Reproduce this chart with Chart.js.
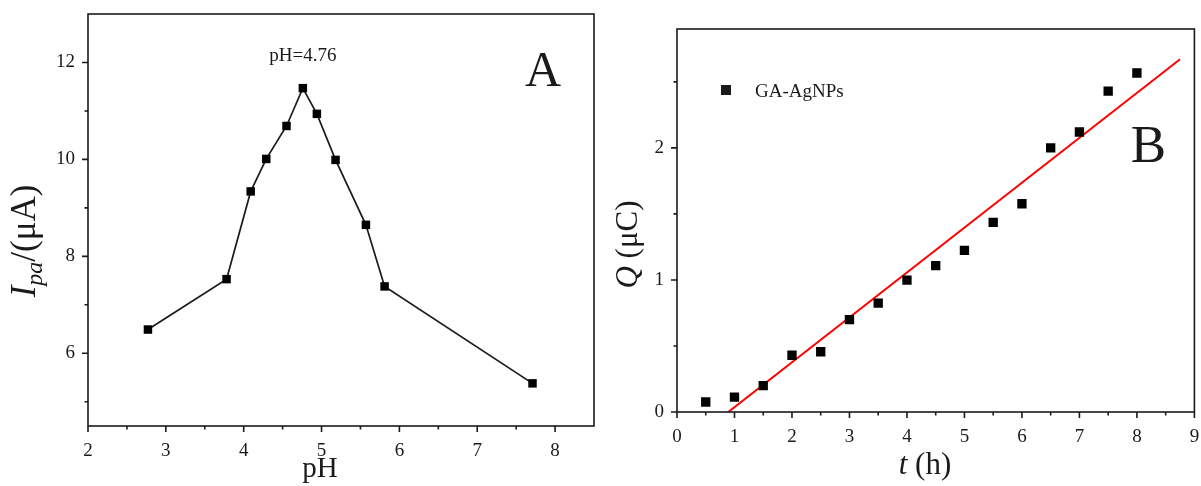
<!DOCTYPE html>
<html>
<head>
<meta charset="utf-8">
<title>Ipa vs pH / Q vs t</title>
<script src="https://cdn.jsdelivr.net/npm/chart.js@4.4.0/dist/chart.umd.min.js"></script>
<style>
  html, body { margin: 0; padding: 0; background: #fff; }
  #wrap { position: relative; width: 1201px; height: 486px; }
  #chartA { position: absolute; left: 0; top: 0; }
  #chartB { position: absolute; left: 600px; top: 0; }
</style>
</head>
<body>
<div id="wrap">
  <canvas id="chartA" width="600" height="486"></canvas>
  <canvas id="chartB" width="601" height="486"></canvas>
</div>
<script>
// Panel A: anodic peak current vs pH
const phValues  = [2.77, 3.78, 4.09, 4.29, 4.55, 4.76, 4.94, 5.18, 5.57, 5.81, 7.71];
const ipaValues = [6.49, 7.53, 9.34, 10.01, 10.69, 11.47, 10.94, 9.99, 8.65, 7.38, 5.38];
const phTicks   = [2, 3, 4, 5, 6, 7, 8];
const ipaTicks  = [6, 8, 10, 12];

// Panel B: accumulated charge vs time
const timeValues   = [0.5, 1, 1.5, 2, 2.5, 3, 3.5, 4, 4.5, 5, 5.5, 6, 6.5, 7, 7.5, 8];
const chargeValues = [0.076, 0.113, 0.20, 0.43, 0.456, 0.70, 0.824, 0.998, 1.108, 1.224, 1.436, 1.577, 2.00, 2.12, 2.43, 2.567];
const timeTicks    = [0, 1, 2, 3, 4, 5, 6, 7, 8, 9];
const chargeTicks  = [0, 1, 2];
const fitSpan      = [0, 8.75];

const SERIF = '"Liberation Serif", "DejaVu Serif", serif';
const INK = '#1a1a1a';

// least squares line through the charge data
function linearFit(xs, ys) {
    const n = xs.length;
    const mx = xs.reduce((s, v) => s + v, 0) / n;
    const my = ys.reduce((s, v) => s + v, 0) / n;
    let sxy = 0, sxx = 0;
    xs.forEach((x, i) => { sxy += (x - mx) * (ys[i] - my); sxx += (x - mx) * (x - mx); });
    const slope = sxy / sxx;
    return { slope, intercept: my - slope * mx };
}
const fit = linearFit(timeValues, chargeValues);
const fitPoints = fitSpan.map(t => ({ x: t, y: fit.slope * t + fit.intercept }));

// box around the plot area plus outward major/minor ticks on bottom and left
const frameTicks = {
    id: 'frameTicks',
    afterDraw(chart, args, opts) {
        const { ctx, chartArea: a, scales: { x, y } } = chart;
        ctx.save();
        ctx.strokeStyle = INK;
        ctx.lineWidth = 1.6;
        ctx.strokeRect(a.left, a.top, a.right - a.left, a.bottom - a.top);

        ctx.beginPath();
        const walk = (scale, majors, draw) => {
            const step = majors[1] - majors[0];
            for (let v = majors[0] - step / 2; v <= scale.max + 1e-9; v += step / 2) {
                if (v < scale.min - 1e-9) continue;
                const major = Math.abs((v - majors[0]) / step - Math.round((v - majors[0]) / step)) < 1e-6;
                const edge = Math.abs(v - scale.min) < 1e-9 || Math.abs(v - scale.max) < 1e-9;
                if (!major && edge) continue;
                draw(scale.getPixelForValue(v), major ? 6 : 3.5);
            }
        };
        walk(x, opts.xMajor, (px, len) => { ctx.moveTo(px, a.bottom); ctx.lineTo(px, a.bottom + len); });
        walk(y, opts.yMajor, (py, len) => { ctx.moveTo(a.left, py); ctx.lineTo(a.left - len, py); });
        ctx.stroke();
        ctx.restore();
    }
};

// texts that are not part of the scales: titles, panel letters, notes
const panelText = {
    id: 'panelText',
    afterDraw(chart, args, opts) {
        const ctx = chart.ctx;
        ctx.save();
        ctx.fillStyle = INK;
        opts.draw(chart, ctx);
        ctx.restore();
    }
};

function runs(ctx, parts, x, y) {
    // draws a row of [text, font, dy] pieces centred on x
    const widths = parts.map(p => { ctx.font = p[1]; return ctx.measureText(p[0]).width; });
    let cx = x - widths.reduce((s, w) => s + w, 0) / 2;
    ctx.textAlign = 'left';
    ctx.textBaseline = 'alphabetic';
    parts.forEach((p, i) => {
        ctx.font = p[1];
        ctx.fillText(p[0], cx, y + (p[2] || 0));
        cx += widths[i];
    });
}

function baseScales(xMin, xMax, xTicks, yMin, yMax, yTicks, yWidth, xHeight) {
    const tickFont = { family: SERIF, size: 19 };
    return {
        x: {
            type: 'linear', min: xMin, max: xMax,
            grid: { display: false, drawTicks: false },
            border: { display: false },
            afterBuildTicks: s => { s.ticks = xTicks.map(v => ({ value: v })); },
            afterFit: s => { s.height = xHeight; s.paddingLeft = 0; s.paddingRight = 0; },
            ticks: { font: tickFont, color: INK, padding: 14, maxRotation: 0, autoSkip: false }
        },
        y: {
            type: 'linear', min: yMin, max: yMax,
            grid: { display: false, drawTicks: false },
            border: { display: false },
            afterBuildTicks: s => { s.ticks = yTicks.map(v => ({ value: v })); },
            afterFit: s => { s.width = yWidth; s.paddingTop = 0; s.paddingBottom = 0; },
            ticks: { font: tickFont, color: INK, padding: 13, autoSkip: false }
        }
    };
}

const peakIndex = ipaValues.indexOf(Math.max(...ipaValues));

new Chart(document.getElementById('chartA'), {
    type: 'line',
    data: {
        datasets: [{
            data: phValues.map((v, i) => ({ x: v, y: ipaValues[i] })),
            borderColor: INK,
            borderWidth: 1.7,
            pointStyle: 'rect',
            pointRadius: 6,
            pointBackgroundColor: '#000',
            pointBorderWidth: 0,
            tension: 0
        }]
    },
    options: {
        responsive: false,
        animation: false,
        events: [],
        layout: { padding: { left: 0, right: 6, top: 14, bottom: 0 } },
        scales: baseScales(2, 8.5, phTicks, 4.5, 13, ipaTicks, 88, 60),
        plugins: {
            legend: { display: false },
            tooltip: { enabled: false },
            frameTicks: { xMajor: phTicks, yMajor: ipaTicks },
            panelText: {
                draw(chart, ctx) {
                    const { chartArea: a, scales: { x, y } } = chart;
                    const px = x.getPixelForValue(phValues[peakIndex]);
                    const py = y.getPixelForValue(ipaValues[peakIndex]);
                    runs(ctx, [['pH=' + phValues[peakIndex].toFixed(2), '19px ' + SERIF]], px, py - 27);
                    runs(ctx, [['A', '50px ' + SERIF]], a.right - 51, a.top + 72);
                    runs(ctx, [['pH', '29px ' + SERIF]], (a.left + a.right) / 2 - 21, 477);
                    ctx.translate(35, (a.top + a.bottom) / 2 + 21);
                    ctx.rotate(-Math.PI / 2);
                    runs(ctx, [
                        ['I', 'italic 35px ' + SERIF],
                        ['pa', 'italic 24px ' + SERIF, 7],
                        ['/(\u03bcA)', '35px ' + SERIF]
                    ], 0, 0);
                }
            }
        }
    },
    plugins: [frameTicks, panelText]
});

new Chart(document.getElementById('chartB'), {
    type: 'scatter',
    data: {
        datasets: [{
            label: 'GA-AgNPs',
            data: timeValues.map((v, i) => ({ x: v, y: chargeValues[i] })),
            pointStyle: 'rect',
            pointRadius: 6.6,
            pointBackgroundColor: '#000',
            pointBorderWidth: 0
        }, {
            type: 'line',
            data: fitPoints,
            borderColor: '#ff0000',
            borderWidth: 2,
            pointRadius: 0,
            order: 1
        }]
    },
    options: {
        responsive: false,
        animation: false,
        events: [],
        layout: { padding: { left: 0, right: 5, top: 29, bottom: 0 } },
        scales: baseScales(0, 9, timeTicks, 0, 2.9, chargeTicks, 77, 74),
        plugins: {
            legend: { display: false },
            tooltip: { enabled: false },
            frameTicks: { xMajor: timeTicks, yMajor: chargeTicks },
            panelText: {
                draw(chart, ctx) {
                    const a = chart.chartArea;
                    ctx.fillRect(a.left + 44, a.top + 56, 10, 10);
                    ctx.font = '19px ' + SERIF;
                    ctx.textAlign = 'left';
                    ctx.fillText(chart.data.datasets[0].label, a.left + 78, a.top + 68);
                    runs(ctx, [['B', '53px ' + SERIF]], a.right - 46, a.top + 133);
                    runs(ctx, [['t', 'italic 31px ' + SERIF], [' (h)', '31px ' + SERIF]], 325, 474);
                    ctx.translate(37, (a.top + a.bottom) / 2 + 24);
                    ctx.rotate(-Math.PI / 2);
                    runs(ctx, [['Q', 'italic 31px ' + SERIF], [' (\u03bcC)', '31px ' + SERIF]], 0, 0);
                }
            }
        }
    },
    plugins: [frameTicks, panelText]
});
</script>
</body>
</html>
